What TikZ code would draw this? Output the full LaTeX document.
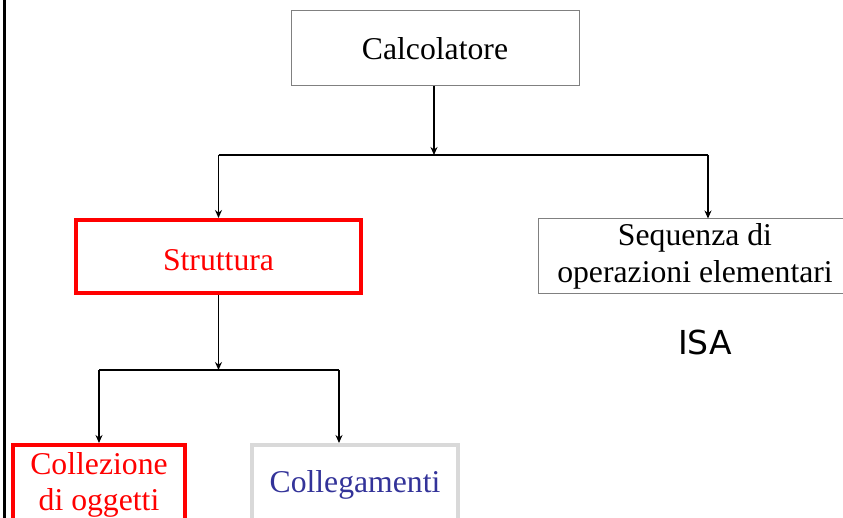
\documentclass[tikz,border=0pt]{standalone}
\usepackage{fontspec}
\setmainfont{Liberation Serif}
\newfontfamily\isafont{DejaVu Sans}
\usetikzlibrary{arrows.meta}
\definecolor{linkblue}{RGB}{51,51,153}
\definecolor{palegray}{RGB}{217,217,217}
\tikzset{
  greybox/.style={draw=gray, line width=1pt, inner sep=0pt, align=center,
    font=\fontsize{31.7}{37.5}\selectfont},
  redbox/.style={draw=red, line width=4pt, inner sep=0pt, align=center,
    text=red, font=\fontsize{31.7}{36}\selectfont},
  palebox/.style={draw=palegray, line width=4pt, inner sep=0pt, align=center,
    text=linkblue, font=\fontsize{31.7}{36}\selectfont},
  link/.style={line width=1.5pt, -{Stealth[length=8pt,width=7pt]}},
  bar/.style={line width=2pt}
}
\begin{document}
\begin{tikzpicture}[x=1pt,y=-1pt]
      \useasboundingbox (0,0) rectangle (843,518);
      \clip (0,0) rectangle (843,518);
      \draw[line width=3pt] (4.5,0) -- (4.5,518);
      \node[greybox, minimum width=288pt, minimum height=75pt] (calc) at (435,48.5) {Calcolatore};
      \node[redbox, minimum width=285pt, minimum height=73pt, text height=29pt, text depth=0pt] (strutt) at (218.5,256.5) {Struttura};
      \node[greybox, minimum width=314pt, minimum height=75pt] (seq) at (695,256.5)
        {Sequenza di\\operazioni elementari};
      \node[font=\isafont\fontsize{33}{36}\selectfont] (isa) at (705,342) {ISA};
      \node[redbox, minimum width=172pt, minimum height=80pt] (coll) at (99,485)
        {Collezione\\di oggetti};
      \node[palebox, minimum width=206pt, minimum height=80pt] (link) at (355,485) {Collegamenti};
      \coordinate (top) at (434,155);
      \coordinate (topl) at (218.5,155);
      \coordinate (topr) at (708,155);
      \coordinate (mid) at (218.5,370);
      \coordinate (midl) at (99,370);
      \coordinate (midr) at (339,370);
      \begin{scope}[link]
        \draw (calc.south -| top) to (top);
        \draw (topl) to (strutt.north);
        \draw (topr) to (topr |- seq.north);
        \draw (strutt.south) to (mid);
        \draw (midl) to (coll.north);
        \draw (midr) to (midr |- link.north);
      \end{scope}
      \draw[bar] (topl) -- (topr);
      \draw[bar] (midl) -- (midr);
    \end{tikzpicture}
\end{document}
